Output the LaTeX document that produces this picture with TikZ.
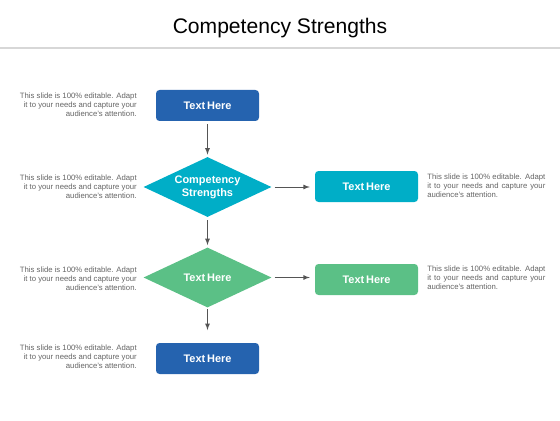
\documentclass[tikz,border=0pt]{standalone}
\usepackage{fontspec}
\setmainfont{Liberation Sans}
\usepackage{xcolor}
\usepackage{tikz}
\usetikzlibrary{shapes.geometric}
\usetikzlibrary{positioning}

\definecolor{boxblue}{RGB}{37,99,175}
\definecolor{boxteal}{RGB}{0,174,199}
\definecolor{boxgreen}{RGB}{91,192,134}
\definecolor{notegray}{RGB}{100,100,100}
\definecolor{arrowgray}{RGB}{85,85,85}
\definecolor{rulegray}{RGB}{215,215,215}

\tikzset{
	stepbox/.style={draw=none,rectangle,rounded corners=2.5pt,minimum width=2.575cm,minimum height=0.775cm,text=white,font=\fontsize{7.8}{9.2}\selectfont\bfseries,align=center},
	choice/.style={draw=none,diamond,shape aspect=2.13,inner sep=0pt,minimum width=3.2cm,minimum height=1.5cm,text=white,font=\fontsize{7.8}{9.2}\selectfont\bfseries,align=center},
	noteleft/.style={anchor=east,align=right,text=notegray,font=\fontsize{5.5}{6.4}\selectfont,inner sep=0pt},
	noteright/.style={anchor=west,align=justify,text width=84pt,text=notegray,font=\fontsize{5.5}{6.4}\selectfont,inner sep=0pt},
	flow/.style={-latex,arrowgray,line width=0.6pt}
}

\begin{document}
\begin{tikzpicture}
	\useasboundingbox (0,0) rectangle (14,10.5);
	\node (title) at (7,9.8) {\fontsize{15}{18}\selectfont Competency Strengths};
	\draw[rulegray,line width=1pt] (0,9.3) coordinate(rule left) -- (14,9.3) coordinate(rule right);
	% middle column
	\node[stepbox,fill=boxblue] (b1) at (5.1875,7.8625) {Text\,Here};
	\node[choice,fill=boxteal] (d1) at (5.1875,5.825) {Competency\\Strengths};
	\node[choice,fill=boxgreen] (d2) at (5.1875,3.5625) {Text\,Here};
	\node[stepbox,fill=boxblue] (b4) at (5.1875,1.5375) {Text\,Here};
	% right column
	\node[stepbox,fill=boxteal] (r1) at (9.1625,5.8375) {Text\,Here};
	\node[stepbox,fill=boxgreen] (r2) at (9.1625,3.5125) {Text\,Here};
	% notes
	\node[noteleft] (n1) at (3.425,7.875) {This slide is 100\% editable. Adapt\\it to your needs and capture your\\audience's attention.};
	\node[noteleft] (n2) at (3.425,5.825) {This slide is 100\% editable. Adapt\\it to your needs and capture your\\audience's attention.};
	\node[noteleft] (n3) at (3.425,3.525) {This slide is 100\% editable. Adapt\\it to your needs and capture your\\audience's attention.};
	\node[noteleft] (n4) at (3.425,1.575) {This slide is 100\% editable. Adapt\\it to your needs and capture your\\audience's attention.};
	\node[noteright] (n5) at (10.675,5.85) {This slide is 100\% editable. Adapt it to your needs and capture your audience's attention.};
	\node[noteright] (n6) at (10.675,3.55) {This slide is 100\% editable. Adapt it to your needs and capture your audience's attention.};
	% arrows
	\draw[flow,shorten <=2pt,shorten >=1.5pt] (b1) -- (d1);
	\draw[flow,shorten <=2pt,shorten >=1.5pt] (d1) -- (d2);
	\draw[flow,shorten <=1pt,shorten >=9pt] (d2) -- (b4);
	\draw[flow,shorten <=2pt,shorten >=3.5pt] (d1.east) -- (d1.east -| r1.west);
	\draw[flow,shorten <=2pt,shorten >=3.5pt] (d2.east) -- (d2.east -| r2.west);
\end{tikzpicture}
\end{document}
